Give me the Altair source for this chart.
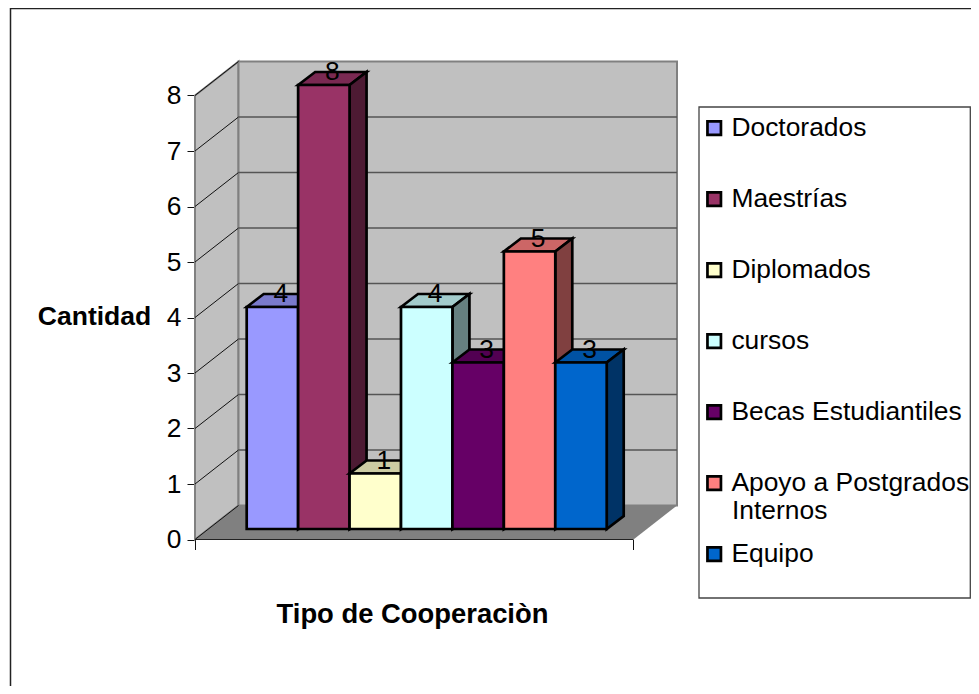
import altair as alt
import pandas as pd

categories = ["Doctorados", "Maestrías", "Diplomados", "cursos", "Becas Estudiantiles", "Apoyo a Postgrados Internos", "Equipo"]
values = [4, 8, 1, 4, 3, 5, 3]
front_colors = ["#9999FF", "#993366", "#FFFFCC", "#CCFFFF", "#660066", "#FF8080", "#0066CC"]
top_colors = ["#7A7ACC", "#7A2952", "#CCCCA3", "#A3CCCC", "#520052", "#CC6666", "#0052A3"]
side_colors = ["#4D4D80", "#4D1A33", "#808066", "#668080", "#330033", "#804040", "#003366"]
y_ticks = [0, 1, 2, 3, 4, 5, 6, 7, 8]

FONT = "Liberation Sans"
W, H = 963, 678
PX_X, PX_Y = 51.43, 55.5          # pixels per bar width / per value unit
X_DOM = [(8 - 246.7) / PX_X, (8 + W - 246.7) / PX_X]
Y_DOM = [(539.5 - 8 - H) / PX_Y, (539.5 - 8) / PX_Y]

def X(p):
    return (p - 246.7) / PX_X

def Y(p):
    return (539.5 - p) / PX_Y

x_scale = alt.Scale(domain=X_DOM, nice=False, zero=False)
y_scale = alt.Scale(domain=Y_DOM, nice=False, zero=False)
BASE = Y(529)
DX, DY = 17 / PX_X, 13 / PX_Y
WALL_DX, WALL_DY = 43.5 / PX_X, 34 / PX_Y
LEFT, RIGHT = X(195), X(633.5)

x_axis = alt.Axis(
    values=[LEFT, RIGHT], labels=False, domain=False, grid=False, orient="bottom",
    offset=-(H - (539.5 - 8)), tickColor="#111111", tickSize=10, tickWidth=1,
    title="Tipo de Cooperaciòn", titleFont=FONT, titleFontSize=27.4, titleFontWeight="bold",
    titleColor="black", titleX=404, titleY=75, titleAlign="center", titleBaseline="middle")
y_axis = alt.Axis(
    values=y_ticks, orient="left", domain=False, grid=False, offset=-(195 - 8),
    tickColor="#111111", tickSize=8, tickWidth=1, labelFont=FONT, labelFontSize=26.4,
    labelColor="black", labelPadding=6, format="d",
    title="Cantidad", titleFont=FONT, titleFontSize=26.5, titleFontWeight="bold", titleColor="black",
    titleAngle=0, titleX=-101, titleY=308, titleAlign="center", titleBaseline="middle")

def xe(f="x"):
    return alt.X(f"{f}:Q", scale=x_scale, axis=x_axis)

def ye(f="y"):
    return alt.Y(f"{f}:Q", scale=y_scale, axis=y_axis)

def poly(pts, **mark):
    df = pd.DataFrame(pts, columns=["x", "y", "y2"])
    return alt.Chart(df).mark_area(**mark).encode(x=xe(), y=ye(), y2="y2:Q")

wall_style = dict(color="#C0C0C0", stroke="#808080", strokeWidth=2)
left_wall = poly([(LEFT, 8, 0), (LEFT + WALL_DX, 8 + WALL_DY, WALL_DY)], **wall_style)
back_wall = poly([(LEFT + WALL_DX, 8 + WALL_DY, WALL_DY), (RIGHT + WALL_DX, 8 + WALL_DY, WALL_DY)], **wall_style)
floor = poly([
    (LEFT, 0, 0),
    (LEFT + WALL_DX, WALL_DY, 0),
    (RIGHT, WALL_DY, 0),
    (RIGHT + WALL_DX, WALL_DY, WALL_DY),
], color="#808080")

grid_rows = [dict(x=LEFT, y=v, x2=LEFT + WALL_DX, y2=v + WALL_DY) for v in y_ticks]
side_grid = alt.Chart(pd.DataFrame(grid_rows)).mark_rule(color="#111111", strokeWidth=1).encode(
    x=xe(), y=ye(), x2="x2:Q", y2="y2:Q")
back_rows = [dict(x=LEFT + WALL_DX, x2=RIGHT + WALL_DX, y=v + WALL_DY) for v in y_ticks[1:8]]
back_grid = alt.Chart(pd.DataFrame(back_rows)).mark_rule(color="#555555", strokeWidth=1.5).encode(
    x=xe(), y=ye(), x2="x2:Q")
floor_edge = alt.Chart(pd.DataFrame([dict(x=LEFT, x2=RIGHT, y=0)])).mark_rule(color="#222222", strokeWidth=1).encode(
    x=xe(), y=ye(), x2="x2:Q")

# Bars: one top, side and front face per category, painted from left to right
rows, domain, colors = [], [], []
for i, (cat, val) in enumerate(zip(categories, values)):
    t = val + BASE
    x0, x1 = i, i + 1
    faces = [
        (cat + " (top)", top_colors[i], [(x0, t, t), (x0 + DX, t + DY, t), (x1, t + DY, t), (x1 + DX, t + DY, t + DY)]),
        (cat + " (side)", side_colors[i], [(x1, t, BASE), (x1 + DX, t + DY, BASE + DY)]),
        (cat, front_colors[i], [(x0, t, BASE), (x1, t, BASE)]),
    ]
    for name, col, pts in faces:
        domain.append(name)
        colors.append(col)
        for (px, py, py2) in pts:
            rows.append(dict(x=px, y=py, y2=py2, face=name))

legend_expr = "datum.label == 'Apoyo a Postgrados Internos' ? 'Apoyo a Postgrados' : datum.label"
bars = alt.Chart(pd.DataFrame(rows)).mark_area(stroke="black", strokeWidth=2.7, strokeJoin="miter").encode(
    x=xe(), y=ye(), y2="y2:Q",
    fill=alt.Fill("face:N", scale=alt.Scale(domain=domain, range=colors), sort=None, legend=alt.Legend(
        values=categories, title=None, orient="none", legendX=693, legendY=107,
        symbolType="square", symbolSize=182, symbolStrokeColor="black", symbolStrokeWidth=2.7,
        labelFont=FONT, labelFontSize=26.4, labelColor="black", labelLimit=400, labelOffset=4,
        rowPadding=44, labelExpr=legend_expr, padding=0)),
)

labels = alt.Chart(pd.DataFrame([
    dict(x=i + 0.5 + DX / 2, y=v + BASE + DY, t=str(v)) for i, v in enumerate(values)
])).mark_text(font=FONT, fontSize=26.4, color="black", baseline="middle", align="center").encode(
    x=xe(), y=ye(), text="t:N")

frame_left = alt.Chart(pd.DataFrame({"a": [0]})).mark_rule(color="#222222", strokeWidth=1.5).encode(x=alt.value(2.5))
frame_top = alt.Chart(pd.DataFrame({"a": [0]})).mark_rule(color="#222222", strokeWidth=1.5).encode(
    y=alt.value(0.5), x=alt.value(2), x2=alt.value(W))
legend_box = alt.Chart(pd.DataFrame({"a": [0]})).mark_rect(fill="white", stroke="#444444", strokeWidth=1.3).encode(
    x=alt.value(699 - 8), x2=alt.value(W - 0.7), y=alt.value(107 - 8), y2=alt.value(598 - 8))
second_line = alt.Chart(pd.DataFrame({"t": ["Internos"]})).mark_text(
    font=FONT, fontSize=26.4, color="black", align="left", baseline="middle").encode(
    x=alt.value(724), y=alt.value(503), text="t:N")

chart = alt.layer(
    frame_left, frame_top, left_wall, back_wall, floor, floor_edge, side_grid, back_grid,
    bars, labels, legend_box, second_line,
).properties(width=W, height=H, padding=0, autosize="none").configure_view(stroke=None)

chart.save("out.html", embed_options={"renderer": "svg", "actions": False})
